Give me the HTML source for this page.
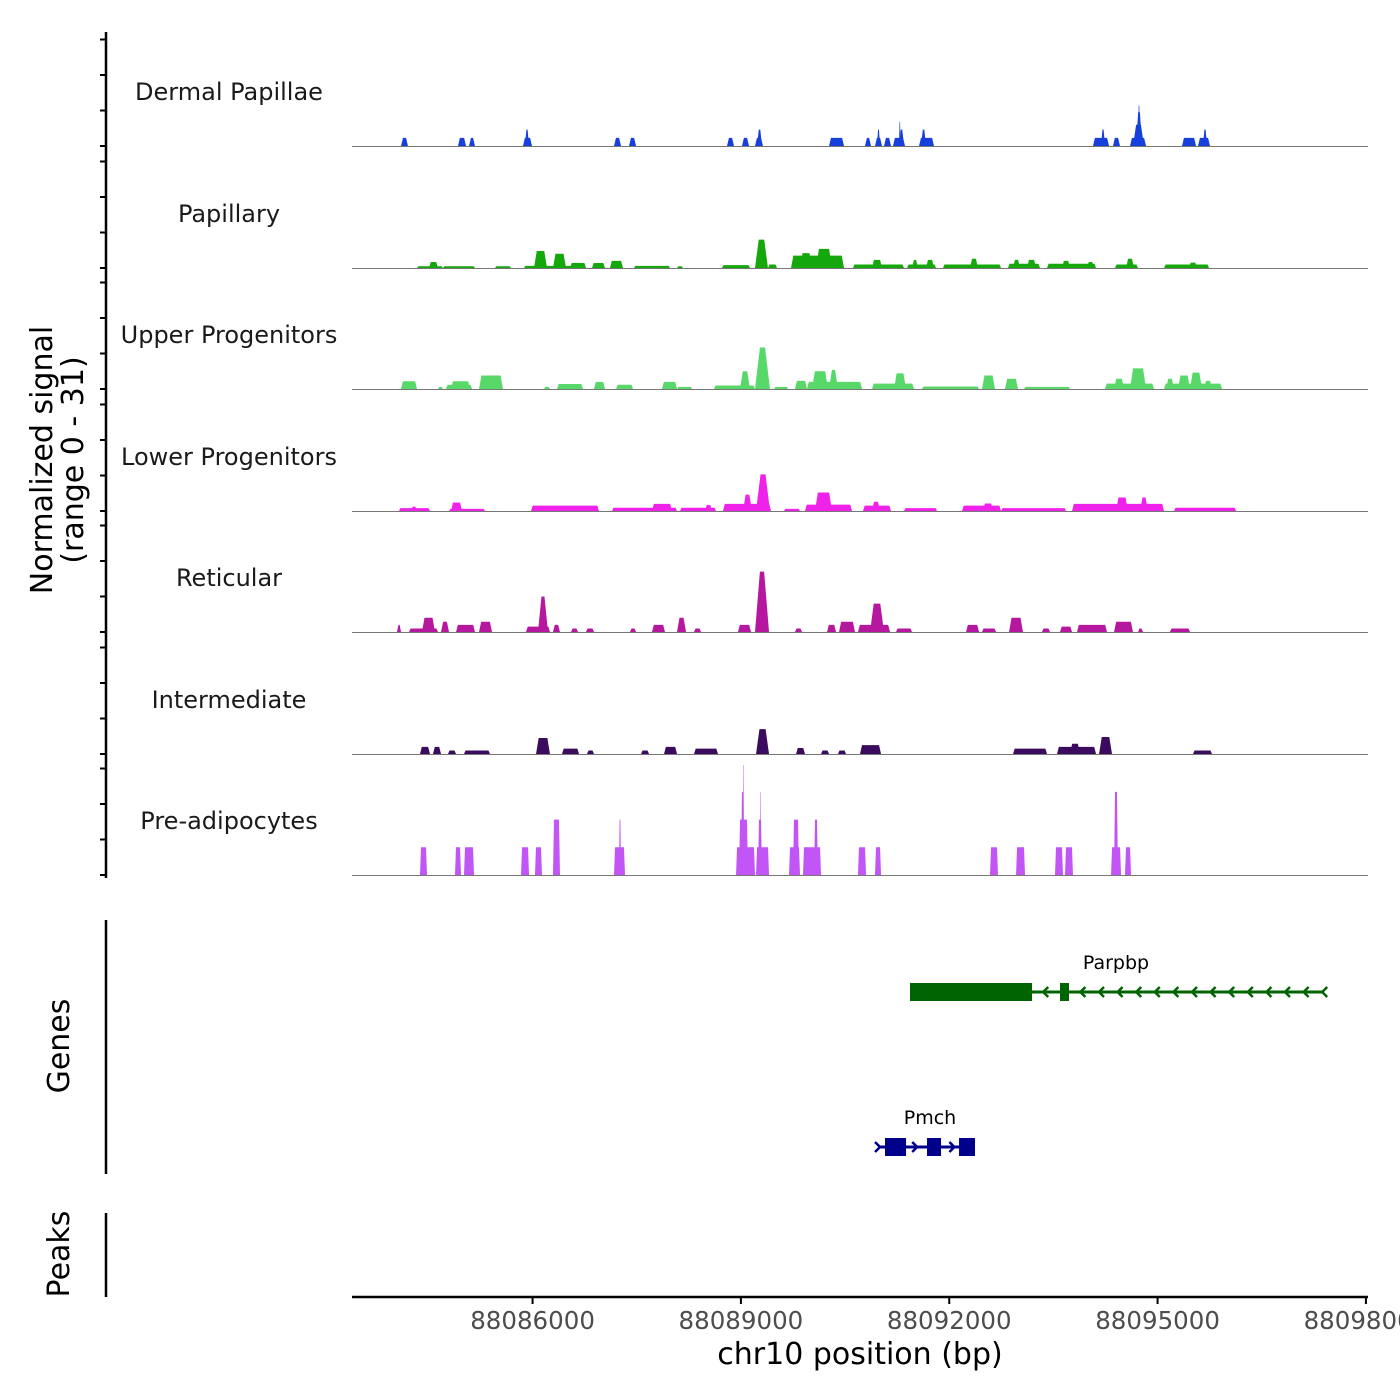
<!DOCTYPE html>
<html><head><meta charset="utf-8"><style>
html,body{margin:0;padding:0;background:#fff;}
svg{display:block;font-family:"DejaVu Sans","Liberation Sans",sans-serif;}
</style></head><body>
<svg id="chart" width="1400" height="1400" viewBox="0 0 1400 1400"></svg>
<script>
// ---- data ----
const trackNames = ["Dermal Papillae","Papillary","Upper Progenitors","Lower Progenitors","Reticular","Intermediate","Pre-adipocytes"];
const trackColors = ["#1740DB","#14A80C","#58D868","#EE22E8","#B5179E","#3A0B5E","#C255F5"];
const xTicks = [88086000,88089000,88092000,88095000,88098000];
const yTickValues = [0,10,20,30];
// segments per track: starts (bp), ends (bp), heights (normalized signal)
const dpStart=[88084106,88084926,88085085,88085862,88085891,88087173,88087389,88088800,88089016,88089203,88089232,88090269,88090787,88090931,88090960,88091061,88091190,88091277,88091277,88091565,88091594,88094070,88094186,88094358,88094603,88094646,88094690,88094718,88095352,88095582,88095654];
const dpEnd=[88084206,88085042,88085171,88085992,88085949,88087274,88087490,88088901,88089117,88089318,88089304,88090485,88090874,88091032,88091003,88091162,88091363,88091349,88091300,88091781,88091666,88094301,88094243,88094459,88094834,88094805,88094776,88094747,88095554,88095755,88095712];
const dpVal=[2.3,2.3,2.3,2.3,4.6,2.3,2.3,2.3,2.3,2.3,4.6,2.3,2.3,2.3,4.6,2.3,2.3,4.6,6.9,2.3,4.6,2.3,4.6,2.3,2.3,6,9.5,11.4,2.3,2.3,4.6];
const papStart=[88084336,88084509,88084710,88085459,88085877,88086021,88086294,88086539,88086856,88087115,88087461,88088080,88088728,88089203,88089390,88089722,88089851,88090082,88090614,88090888,88091392,88091464,88091666,88091910,88092299,88092846,88092918,88093120,88093408,88093624,88093984,88094387,88094546,88095093,88095453];
const papEnd=[88084710,88084638,88085171,88085690,88086770,88086208,88086482,88086770,88087043,88087302,88087979,88088166,88089131,88089390,88089520,88090485,88090024,88090312,88091349,88091032,88091810,88091550,88091781,88092746,88092414,88093307,88093019,88093250,88094114,88093739,88094085,88094718,88094661,88095741,88095568];
const papVal=[0.5,1.7,0.5,0.5,0.6,4.8,4,1.4,1.4,2,0.6,0.5,0.8,8,1,3.5,4.2,5.4,1,2.3,1,2.3,2.3,1,2.6,1.2,2.3,2.3,1.2,2,1.7,1,2.6,1,1.5];
const upStart=[88084106,88084638,88084754,88084826,88085229,88086165,88086352,88086885,88087202,88087864,88088080,88088613,88088987,88089203,88089477,88089779,88089952,88090024,88090269,88090888,88091205,88091608,88092472,88092803,88093077,88094243,88094373,88094603,88095093,88095122,88095294,88095467,88095669];
const upEnd=[88084336,88084710,88085128,88085099,88085574,88086251,88086726,88087043,88087446,88088080,88088296,88089203,88089131,88089419,88089678,88089952,88090744,88090254,88090398,88091493,88091378,88092429,88092659,88092990,88093739,88094949,88094517,88094834,88095928,88095237,88095467,88095640,88095784];
const upVal=[2.2,0.6,1.2,2.2,3.8,0.6,1.4,2,1.2,2,0.6,1,5,11.7,0.6,2.3,2,5,5.4,1.5,4.4,0.7,3.8,2.9,0.6,1.5,2.9,5.8,1.5,2.9,3.8,4.6,2.3];
const lpStart=[88084077,88084250,88084797,88084826,88085978,88087144,88087720,88088123,88088483,88088742,88089030,88089218,88089621,88089923,88090067,88090758,88090888,88091349,88092184,88092486,88092746,88093768,88094402,88094747,88095237];
const lpEnd=[88084523,88084336,88085315,88084984,88086957,88088080,88088008,88088642,88088584,88089434,88089160,88089419,88089851,88090600,88090312,88091162,88091003,88091824,88092746,88092630,88093682,88095093,88094574,88094862,88096130];
const lpVal=[0.8,1.2,0.6,2.4,1.5,0.9,2,0.9,1.7,2,4.6,10.3,0.6,1.8,5.2,1.5,2.6,0.8,1.5,2.1,0.8,2,3.8,3.8,0.9];
const retStart=[88084048,88084221,88084408,88084682,88084898,88085229,88085906,88086078,88086294,88086554,88086770,88087403,88087720,88088080,88088325,88088958,88089203,88089779,88090240,88090413,88090686,88090859,88091234,88092242,88092472,88092861,88093336,88093595,88093840,88094373,88094718,88095179];
const retEnd=[88084106,88084638,88084595,88084797,88085171,88085416,88086251,88086222,88086395,88086654,88086885,88087490,88087907,88088210,88088426,88089146,88089405,88089880,88090370,88090643,88091147,88091061,88091464,88092429,88092674,88093062,88093451,88093768,88094272,88094646,88094790,88095467];
const retVal=[2,1,4,2.9,2,2.9,1.5,10,2,1,1,1,2,4,1,2,17,1,2,2.9,2,8,1,2,1,4,1,1.5,2,2.9,1,1];
const intStart=[88084379,88084566,88084782,88085013,88086050,88086424,88086784,88087562,88087893,88088325,88089218,88089794,88090154,88090398,88090715,88092918,88093552,88093739,88094157,88095510];
const intEnd=[88084523,88084682,88084898,88085387,88086251,88086669,88086885,88087677,88088080,88088670,88089405,88089923,88090269,88090514,88091018,88093408,88094114,88093883,88094344,88095784];
const intVal=[2,2,1,1,4.5,1.5,1,1,2,1.5,7,1.7,1,1,2.5,1.5,2,2.9,4.8,1];
const preStart=[88084379,88084883,88085013,88085834,88086035,88086294,88087173,88087245,88088930,88088973,88089002,88089030,88089218,88089246,88089275,88089693,88089750,88089894,88090053,88090686,88090931,88092587,88092962,88093523,88093667,88094330,88094373,88094531];
const preEnd=[88084480,88084970,88085157,88085949,88086136,88086395,88087331,88087274,88089203,88089102,88089045,88089045,88089405,88089304,88089290,88089851,88089837,88090154,88090110,88090802,88091018,88092702,88093091,88093638,88093782,88094474,88094430,88094618];
const preVal=[7.8,7.8,7.8,7.8,7.8,15.6,7.8,15.6,7.8,15.6,23.4,31,7.8,15.6,23.4,7.8,15.6,7.8,15.6,7.8,7.8,7.8,7.8,7.8,7.8,7.8,23.4,7.8];
// genes
const geneNames=["Parpbp","Pmch"];
const geneStrand=["-","+"];
const geneStart=[88091435,88091003];
const geneEnd=[88097382,88092371];
const parpbpExonStart=[88091435,88093595];
const parpbpExonEnd=[88093192,88093725];
const pmchExonStart=[88091075,88091680,88092141];
const pmchExonEnd=[88091378,88091882,88092371];

const trackStarts=[dpStart,papStart,upStart,lpStart,retStart,intStart,preStart];
const trackEnds=[dpEnd,papEnd,upEnd,lpEnd,retEnd,intEnd,preEnd];
const trackVals=[dpVal,papVal,upVal,lpVal,retVal,intVal,preVal];

// ---- scales ----
const X0=352,X1=1368,BP0=88083400,BP1=88098030;
const xs=bp=>X0+(bp-BP0)*(X1-X0)/(BP1-BP0);
const baselines=[146,268,389,511,632,754,875];
const PXU=3.55;
const ys=(i,v)=>baselines[i]-v*PXU;

const NS="http://www.w3.org/2000/svg";
const svg=document.getElementById('chart');
function mk(tag,attrs,parent){const e=document.createElementNS(NS,tag);for(const k in attrs)e.setAttribute(k,attrs[k]);(parent||svg).appendChild(e);return e;}

// y axis (signal)
const yAxis=mk('g',{});


mk('line',{x1:106,y1:32,x2:106,y2:878,stroke:'#000','stroke-width':2.5},yAxis);
baselines.forEach((b,i)=>{
  yTickValues.forEach(v=>{
    const t=mk('line',{x1:100,x2:106,y1:ys(i,v),y2:ys(i,v),stroke:'#000','stroke-width':2},yAxis);
    
    
  });
});
const yt=mk('text',{transform:'translate(52,460) rotate(-90)','text-anchor':'middle','font-size':30,fill:'#000'});


mk('tspan',{x:0,dy:0},yt).textContent='Normalized signal';
mk('tspan',{x:0,dy:31},yt).textContent='(range 0 - 31)';

// tracks
trackNames.forEach((name,i)=>{
  const g=mk('g',{});
  
  
  const lbl=mk('text',{x:229,y:baselines[i]-46,'text-anchor':'middle','font-size':24,fill:'#1a1a1a'},g);
  lbl.textContent=name;
  
  
  const st=trackStarts[i],en=trackEnds[i],vl=trackVals[i];
  for(let k=0;k<st.length;k++){
    const x1=xs(st[k]),x2=xs(en[k]),b=baselines[i],top=ys(i,vl[k]);
    const w=x2-x1,hp=b-top;
    const r=i===6?Math.min(w*0.3,1):Math.min(w*0.35,1.2+hp*0.09);
    const p=mk('polygon',{points:`${x1},${b} ${x1+r},${top} ${x2-r},${top} ${x2},${b}`,fill:trackColors[i]},g);
    
    
  }
  const bl=mk('line',{x1:X0,x2:X1,y1:baselines[i]+0.5,y2:baselines[i]+0.5,stroke:'#777','stroke-width':1},g);
  
  
});

// genes panel
const gp=mk('g',{});


mk('line',{x1:106,y1:920,x2:106,y2:1174,stroke:'#000','stroke-width':2.5},gp);
const gt=mk('text',{transform:'translate(69,1046) rotate(-90)','text-anchor':'middle','font-size':30,fill:'#000'},gp);
gt.textContent='Genes';


const geneY=[992,1147];
const geneColors=["#006400","#00008B"];
const exS=[parpbpExonStart,pmchExonStart],exE=[parpbpExonEnd,pmchExonEnd];
geneNames.forEach((gn,j)=>{
  const g=mk('g',{},gp);
  
  
  const y=geneY[j],c=geneColors[j],x1=xs(geneStart[j]),x2=xs(geneEnd[j]);
  mk('line',{x1:x1,x2:x2,y1:y,y2:y,stroke:c,'stroke-width':3},g);
  const step=18.6;
  const dir=geneStrand[j]==='-'?1:-1;
  for(let x=x1+ (j===0?3:0); x<=x2+0.5; x+=step){
    mk('polyline',{points:`${x+dir*5},${y-5} ${x},${y} ${x+dir*5},${y+5}`,fill:'none',stroke:c,'stroke-width':2.5},g);
  }
  for(let k=0;k<exS[j].length;k++){
    const ex=mk('rect',{x:xs(exS[j][k]),y:y-9,width:xs(exE[j][k])-xs(exS[j][k]),height:18,fill:c},g);
    
    
  }
  const t=mk('text',{x:(j===0?1116:930),y:y-23,'text-anchor':'middle','font-size':19,fill:'#000'},g);
  t.textContent=gn;
  
  
});

// peaks panel
const pp=mk('g',{});


mk('line',{x1:106,y1:1213,x2:106,y2:1297,stroke:'#000','stroke-width':2.5},pp);
const pt=mk('text',{transform:'translate(69,1254) rotate(-90)','text-anchor':'middle','font-size':30,fill:'#000'},pp);
pt.textContent='Peaks';



// x axis
const xa=mk('g',{});


mk('line',{x1:X0,x2:X1,y1:1297,y2:1297,stroke:'#000','stroke-width':2.5},xa);
xTicks.forEach(v=>{
  const x=xs(v);
  const tk=mk('line',{x1:x,x2:x,y1:1297,y2:1304,stroke:'#000','stroke-width':2},xa);
  
  
  const tl=mk('text',{x:x,y:1329,'text-anchor':'middle','font-size':24.5,fill:'#4d4d4d'},xa);
  tl.textContent=String(v);
  
  
});
const xt=mk('text',{x:860,y:1364,'text-anchor':'middle','font-size':30,fill:'#000'},xa);
xt.textContent='chr10 position (bp)';


</script>
</body></html>
